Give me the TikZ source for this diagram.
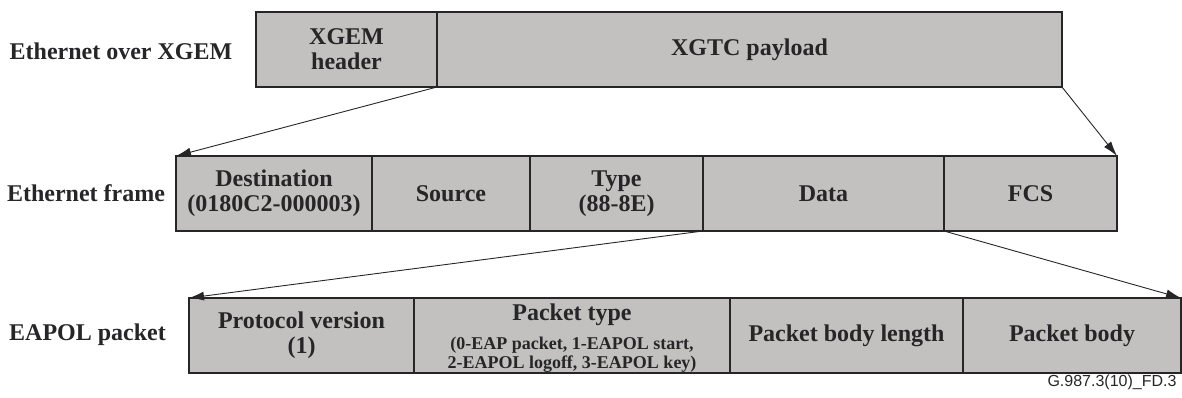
\documentclass[tikz,border=0pt]{standalone}
\usepackage{fontspec}
\setmainfont{Liberation Serif}
\newfontfamily\footfont{Liberation Sans}
\usetikzlibrary{arrows.meta}
\definecolor{fieldgray}{RGB}{194,193,191}
\definecolor{inkgray}{RGB}{38,38,40}
\newcommand{\fieldfont}{\fontsize{24}{25}\selectfont\bfseries}
\newcommand{\smallfieldfont}{\fontsize{18}{19}\selectfont\bfseries}

\tikzset{
fieldbox/.style={draw=inkgray,line width=1.8pt,fill=fieldgray,inner sep=0pt,outer sep=0pt,
  minimum height=75pt,align=center,font=\fieldfont,text=inkgray},
rowlabel/.style={font=\fieldfont,text=inkgray,anchor=base},
pointer/.style={draw=inkgray,line width=0.9pt,-{Latex[length=15pt,width=9pt]}},
}

\begin{document}
\begin{tikzpicture}[x=1pt,y=-1pt]
\useasboundingbox (0,0) rectangle (1182,397);
%
\begin{scope} % XGEM row
\node[rowlabel] (lxgem) at (121,59) {Ethernet over XGEM};
\node[fieldbox,minimum width=181pt] (hdr) at (346.5,49.5) {XGEM\\header};
\node[fieldbox,minimum width=625pt] (pay) at (749.5,49.5) {XGTC payload};
\end{scope}
%
\begin{scope} % Ethernet frame row
\node[rowlabel] (lframe) at (86,201.5) {Ethernet frame};
\node[fieldbox,minimum width=196pt] (dest) at (274,193.5) {Destination\\(0180C2-000003)};
\node[fieldbox,minimum width=158pt] (src) at (451,193.5) {Source};
\node[fieldbox,minimum width=173pt] (type) at (616.5,193.5) {Type\\(88-8E)};
\node[fieldbox,minimum width=241pt] (data) at (823.5,193.5) {Data};
\node[fieldbox,minimum width=173pt] (fcs) at (1030.5,193.5) {FCS};
\end{scope}
%
\begin{scope} % EAPOL row
\node[rowlabel] (leapol) at (87.5,340.5) {EAPOL packet};
\node[fieldbox,minimum width=225pt] (ver) at (301.5,335.5) {Protocol version\\(1)};
\node[fieldbox,minimum width=316pt] (ptype) at (572,335.5)
  {\rule{0pt}{22pt}Packet type\\[4pt]\smallfieldfont (0-EAP packet, 1-EAPOL start,\\[-6pt]\smallfieldfont 2-EAPOL logoff, 3-EAPOL key)};
\node[fieldbox,minimum width=233pt] (len) at (846.5,335.5) {Packet body length};
\node[fieldbox,minimum width=218pt] (body) at (1072,335.5) {Packet body};
\end{scope}
%
\foreach \s/\t in {hdr.south east/dest.north west,pay.south east/fcs.north east,
  type.south east/ver.north west,data.south east/body.north east}
\draw[pointer] (\s)--(\t);
%
\node[font=\footfont\fontsize{16}{16}\selectfont,text=inkgray,anchor=east] (figid) at (1180,382) {G.987.3(10)\_FD.3};
\end{tikzpicture}
\end{document}
